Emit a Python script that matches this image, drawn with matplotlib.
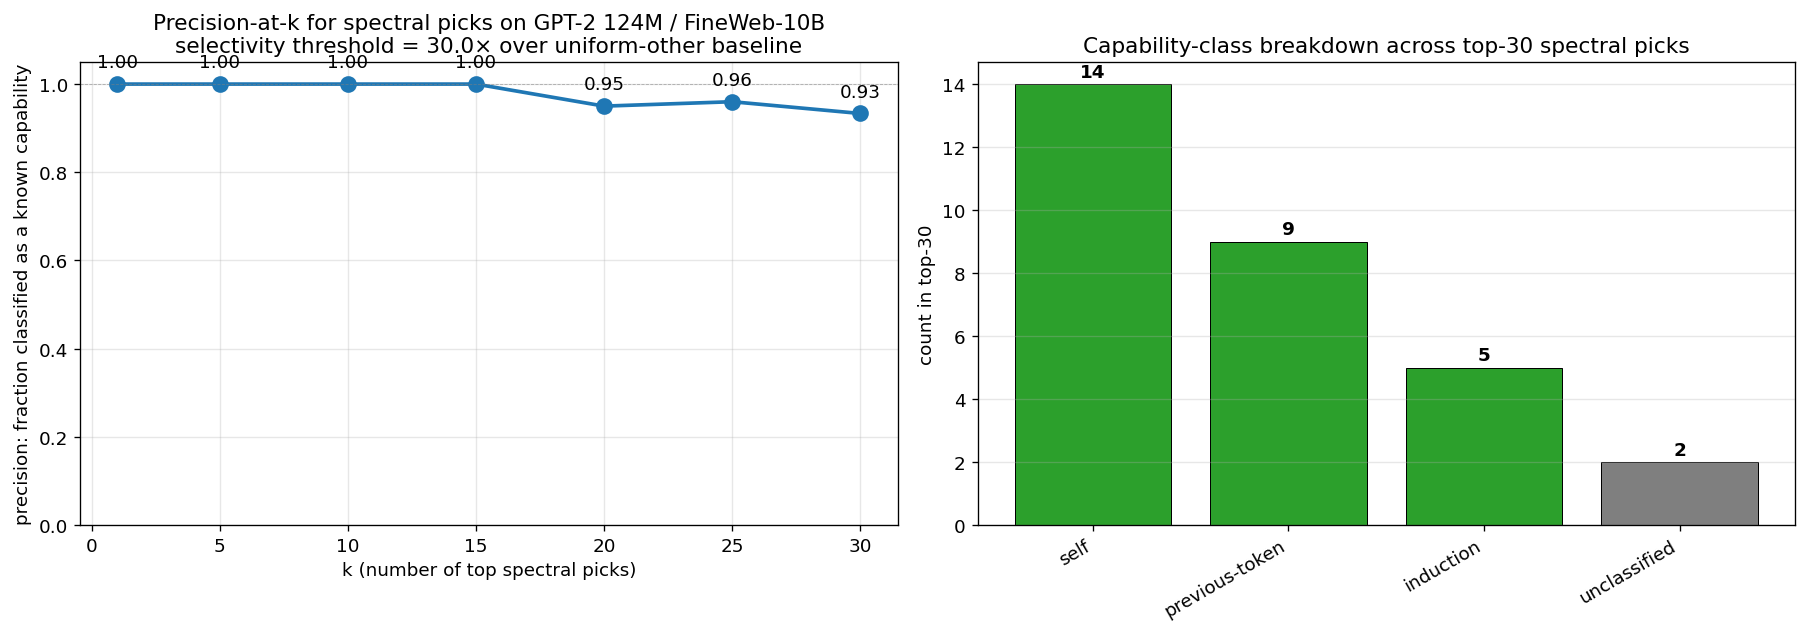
import matplotlib
matplotlib.use("Agg")
import matplotlib.pyplot as plt

k_values = [1, 5, 10, 15, 20, 25, 30]
precision = [1.00, 1.00, 1.00, 1.00, 0.95, 0.96, 28/30]

classes = ["self", "previous-token", "induction", "unclassified"]
counts = [14, 9, 5, 2]
bar_colors = ["#2ca02c", "#2ca02c", "#2ca02c", "#7f7f7f"]

fig, (ax1, ax2) = plt.subplots(1, 2, figsize=(15.05, 5.283), dpi=120)
fig.subplots_adjust(left=80/1806, right=1795/1806, bottom=1-526/634, top=1-63/634,
                    wspace=80/817.5)

ax1.plot(k_values, precision, "o-", color="#1f77b4", lw=2.2, markersize=9)
for k, p in zip(k_values, precision):
    ax1.annotate(f"{p:.2f}", (k, p), textcoords="offset points", xytext=(0, 10),
                 ha="center", fontsize=11)
ax1.axhline(1.0, color="gray", ls="--", lw=0.5, alpha=0.6)
ax1.set_ylim(0, 1.05)
ax1.set_xlabel("k (number of top spectral picks)", fontsize=11)
ax1.set_ylabel("precision: fraction classified as a known capability", fontsize=11)
ax1.set_title("Precision-at-k for spectral picks on GPT-2 124M / FineWeb-10B\n"
              "selectivity threshold = 30.0× over uniform-other baseline", fontsize=13)
ax1.grid(True, alpha=0.3)
ax1.tick_params(labelsize=11)

x = range(len(classes))
ax2.bar(x, counts, color=bar_colors, edgecolor="black", linewidth=0.6)
for xi, c in zip(x, counts):
    ax2.annotate(str(c), (xi, c), textcoords="offset points", xytext=(0, 2),
                 ha="center", va="bottom", fontsize=11, fontweight="bold")
ax2.set_xticks(list(x))
ax2.set_xticklabels(classes, rotation=30, ha="right", fontsize=11)
ax2.set_ylabel("count in top-30", fontsize=11)
ax2.set_title("Capability-class breakdown across top-30 spectral picks", fontsize=13)
ax2.grid(True, axis="y", alpha=0.3)
ax2.tick_params(labelsize=11)

fig.savefig("out.png", dpi=120)
